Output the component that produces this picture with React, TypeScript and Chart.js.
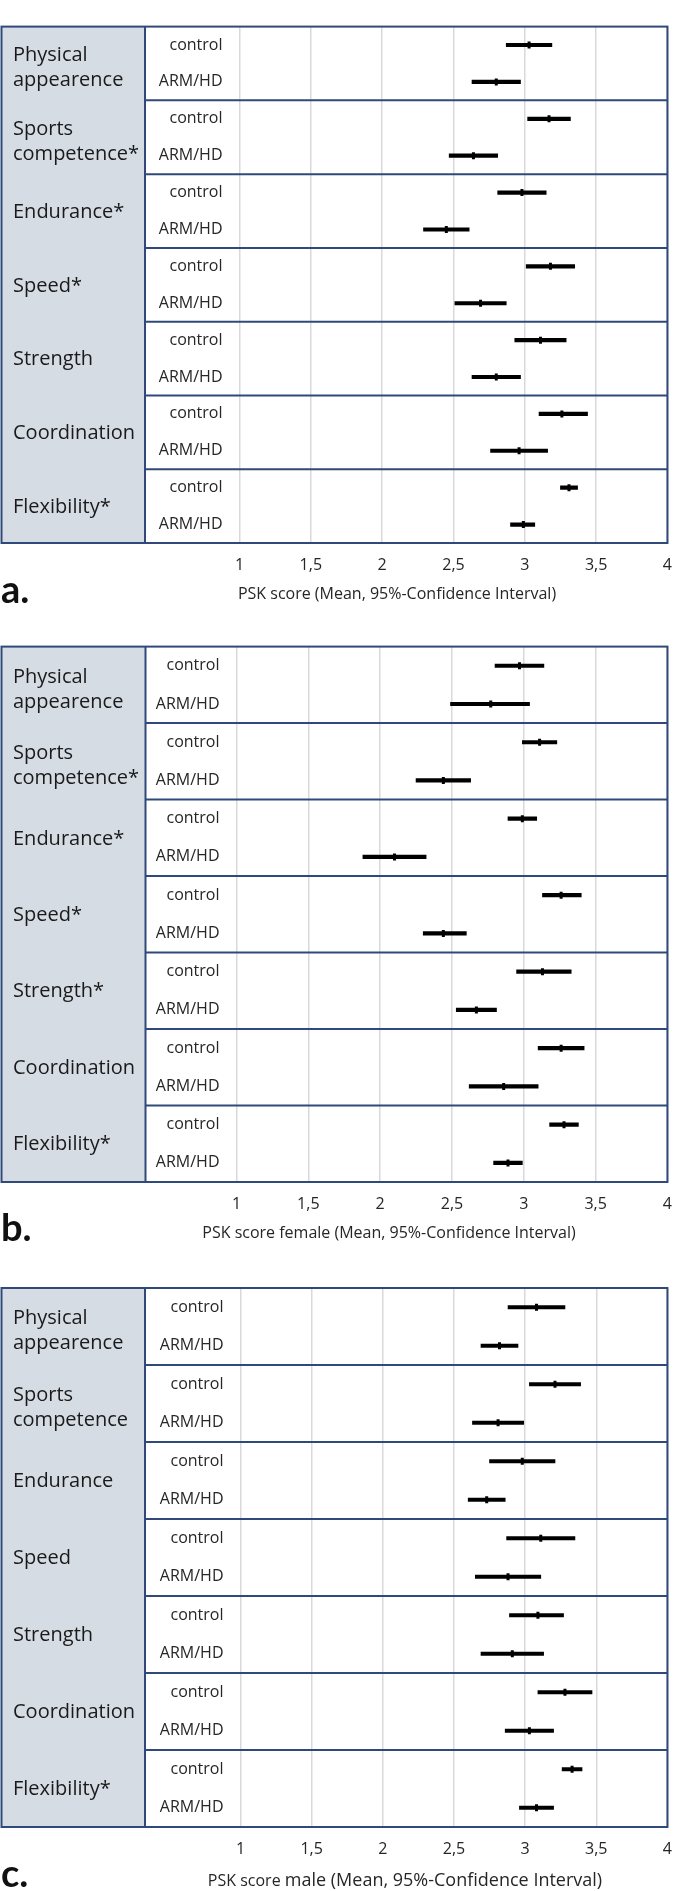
import React, { useEffect, useRef } from 'react';
import { Chart, registerables } from 'chart.js';
Chart.register(...registerables);

// ---------- data ----------
const subLabels = ['control', 'ARM/HD', 'control', 'ARM/HD', 'control', 'ARM/HD', 'control', 'ARM/HD', 'control', 'ARM/HD', 'control', 'ARM/HD', 'control', 'ARM/HD'];
const xTickLabels = ['1', '1,5', '2', '2,5', '3', '3,5', '4'];

const categoriesA = [['Physical', 'appearence'], ['Sports', 'competence*'], ['Endurance*'], ['Speed*'], ['Strength'], ['Coordination'], ['Flexibility*']];
const categoriesB = [['Physical', 'appearence'], ['Sports', 'competence*'], ['Endurance*'], ['Speed*'], ['Strength*'], ['Coordination'], ['Flexibility*']];
const categoriesC = [['Physical', 'appearence'], ['Sports', 'competence'], ['Endurance'], ['Speed'], ['Strength'], ['Coordination'], ['Flexibility*']];

// a. all participants
const meanA = [3.03, 2.80, 3.17, 2.64, 2.98, 2.45, 3.18, 2.69, 3.11, 2.80, 3.26, 2.96, 3.31, 2.99];
const lowA = [2.87, 2.63, 3.02, 2.47, 2.81, 2.29, 3.01, 2.51, 2.93, 2.63, 3.10, 2.76, 3.25, 2.90];
const highA = [3.19, 2.97, 3.32, 2.81, 3.15, 2.61, 3.35, 2.87, 3.29, 2.97, 3.44, 3.16, 3.37, 3.07];

// b. female
const meanB = [2.97, 2.77, 3.11, 2.44, 2.99, 2.10, 3.26, 2.44, 3.13, 2.67, 3.26, 2.86, 3.28, 2.89];
const lowB = [2.80, 2.49, 2.99, 2.25, 2.89, 1.88, 3.13, 2.30, 2.95, 2.53, 3.10, 2.62, 3.18, 2.79];
const highB = [3.14, 3.04, 3.23, 2.63, 3.09, 2.32, 3.40, 2.60, 3.33, 2.81, 3.42, 3.10, 3.38, 2.99];

// c. male
const meanC = [3.08, 2.82, 3.21, 2.81, 2.98, 2.73, 3.11, 2.88, 3.09, 2.91, 3.28, 3.03, 3.33, 3.08];
const lowC = [2.88, 2.69, 3.03, 2.63, 2.75, 2.60, 2.87, 2.65, 2.89, 2.69, 3.09, 2.86, 3.26, 2.96];
const highC = [3.28, 2.95, 3.39, 2.99, 3.21, 2.86, 3.35, 3.11, 3.27, 3.13, 3.47, 3.20, 3.40, 3.20];

const titleA = [{ text: 'PSK score (Mean, 95%-Confidence Interval)', size: 16 }];
const titleB = [{ text: 'PSK score female (Mean, 95%-Confidence Interval)', size: 16 }];
const titleC = [{ text: 'PSK score ', size: 16 }, { text: 'male (Mean, 95%-Confidence Interval)', size: 18 }];

// ---------- layout ----------
const W = 685;
const BORDER = '#2F4A7A';
const FILL = '#D6DCE4';
const FONT = '"Open Sans", "Noto Sans", sans-serif';

type Part = { text: string; size: number };
type Panel = {
  canvasTop: number; height: number;
  top: number; bottom: number; left: number; right: number;
  boxLeft: number; colRight: number;
  tickPad: number; titleX: number; titleY: number; letterY: number;
  letter: string; title: Part[]; groups: string[][];
  mean: number[]; low: number[]; high: number[];
};

const panels: Panel[] = [
  { canvasTop: 0, height: 620, top: 3, bottom: 543, left: 239.5, right: 679, boxLeft: 1.5, colRight: 145,
    tickPad: 13, titleX: 397, titleY: 593, letterY: 603, letter: 'a.', title: titleA, groups: categoriesA,
    mean: meanA, low: lowA, high: highA },
  { canvasTop: 620, height: 640, top: 23, bottom: 562, left: 236.5, right: 678, boxLeft: 1.5, colRight: 145.5,
    tickPad: 13, titleX: 389, titleY: 612, letterY: 621, letter: 'b.', title: titleB, groups: categoriesB,
    mean: meanB, low: lowB, high: highB },
  { canvasTop: 1260, height: 631, top: 28, bottom: 567, left: 240.5, right: 679, boxLeft: 1.5, colRight: 145,
    tickPad: 13, titleX: 405, titleY: 620, letterY: 627, letter: 'c.', title: titleC, groups: categoriesC,
    mean: meanC, low: lowC, high: highC },
];

function makeDecor(p: Panel) {
  return {
    id: 'decor',
    beforeDraw(chart: any) {
      const { ctx, chartArea } = chart;
      ctx.save();
      ctx.fillStyle = FILL;
      ctx.fillRect(p.boxLeft, chartArea.top, p.colRight - p.boxLeft, chartArea.bottom - chartArea.top);
      ctx.restore();
    },
    afterDraw(chart: any) {
      const { ctx, chartArea } = chart;
      const y = chart.scales.y;
      ctx.save();
      // row separators
      ctx.strokeStyle = BORDER;
      ctx.lineWidth = 2;
      for (let r = 1; r < p.groups.length; r++) {
        const yy = (y.getPixelForValue(2 * r - 1) + y.getPixelForValue(2 * r)) / 2;
        ctx.beginPath();
        ctx.moveTo(p.colRight, yy);
        ctx.lineTo(chartArea.right, yy);
        ctx.stroke();
      }
      // outer box and column divider
      ctx.strokeRect(p.boxLeft, chartArea.top, chartArea.right - p.boxLeft, chartArea.bottom - chartArea.top);
      ctx.beginPath();
      ctx.moveTo(p.colRight, chartArea.top);
      ctx.lineTo(p.colRight, chartArea.bottom);
      ctx.stroke();
      // category labels
      ctx.fillStyle = '#1A1A1A';
      ctx.font = `20px ${FONT}`;
      ctx.textAlign = 'left';
      ctx.textBaseline = 'middle';
      p.groups.forEach((lines, r) => {
        const c = (y.getPixelForValue(2 * r) + y.getPixelForValue(2 * r + 1)) / 2;
        if (lines.length === 2) {
          ctx.fillText(lines[0], 13, c - 8);
          ctx.fillText(lines[1], 13, c + 17);
        } else {
          ctx.fillText(lines[0], 13, c + 1);
        }
      });
      // axis title
      ctx.fillStyle = '#262626';
      let total = 0;
      p.title.forEach((t) => { ctx.font = `${t.size}px ${FONT}`; total += ctx.measureText(t.text).width; });
      let x = p.titleX - total / 2;
      ctx.textBaseline = 'alphabetic';
      p.title.forEach((t) => {
        ctx.font = `${t.size}px ${FONT}`;
        ctx.fillText(t.text, x, p.titleY + 6);
        x += ctx.measureText(t.text).width;
      });
      // panel letter
      ctx.fillStyle = '#111111';
      ctx.font = `bold 38px Lato, ${FONT}`;
      ctx.fillText(p.letter, 1, p.letterY);
      ctx.restore();
    },
  };
}

function PanelChart({ p }: { p: Panel }) {
  const ref = useRef<HTMLCanvasElement | null>(null);
  useEffect(() => {
    if (!ref.current) return;
    const chart = new Chart(ref.current, {
      type: 'bar',
      data: {
        labels: subLabels,
        datasets: [
          {
            type: 'bar',
            data: p.low.map((l, i) => [l, p.high[i]]),
            backgroundColor: '#000000',
            borderWidth: 0,
            borderSkipped: false,
            barThickness: 3.5,
            order: 2,
          } as any,
          {
            type: 'scatter',
            data: p.mean.map((m, i) => ({ x: m, y: i })),
            pointStyle: 'line',
            rotation: 90,
            radius: 3.5,
            borderWidth: 3,
            borderColor: '#000000',
            backgroundColor: '#000000',
            order: 1,
          } as any,
        ],
      },
      options: {
        indexAxis: 'y',
        responsive: false,
        animation: false,
        events: [],
        layout: { padding: { top: p.top, right: W - p.right, left: 0, bottom: 0 } },
        plugins: { legend: { display: false }, tooltip: { enabled: false }, title: { display: false } },
        scales: {
          x: {
            type: 'linear',
            position: 'bottom',
            min: 1,
            max: 4,
            ticks: {
              stepSize: 0.5,
              padding: p.tickPad,
              color: '#262626',
              font: { family: FONT, size: 16 },
              maxRotation: 0,
              callback: (_v: any, i: number) => xTickLabels[i],
            },
            grid: { color: '#D9D9D9', lineWidth: 1.5, drawTicks: false },
            border: { display: false },
            afterFit: (s: any) => { s.height = p.height - p.bottom; },
          },
          y: {
            type: 'category',
            position: 'left',
            offset: true,
            grid: { display: false, drawTicks: false },
            border: { display: false },
            ticks: { padding: 17, color: '#262626', font: { family: FONT, size: 16 }, autoSkip: false },
            afterFit: (s: any) => { s.width = p.left; },
          },
        },
      } as any,
      plugins: [makeDecor(p)],
    });
    return () => chart.destroy();
  }, [p]);
  return (
    <canvas
      ref={ref}
      width={W}
      height={p.height}
      style={{ position: 'absolute', left: 0, top: p.canvasTop, width: W, height: p.height, display: 'block' }}
    />
  );
}

export default function App() {
  return (
    <div style={{ position: 'absolute', left: 0, top: 0, width: W, height: 1891, background: '#ffffff', overflow: 'hidden' }}>
      {panels.map((p, i) => <PanelChart key={i} p={p} />)}
    </div>
  );
}
